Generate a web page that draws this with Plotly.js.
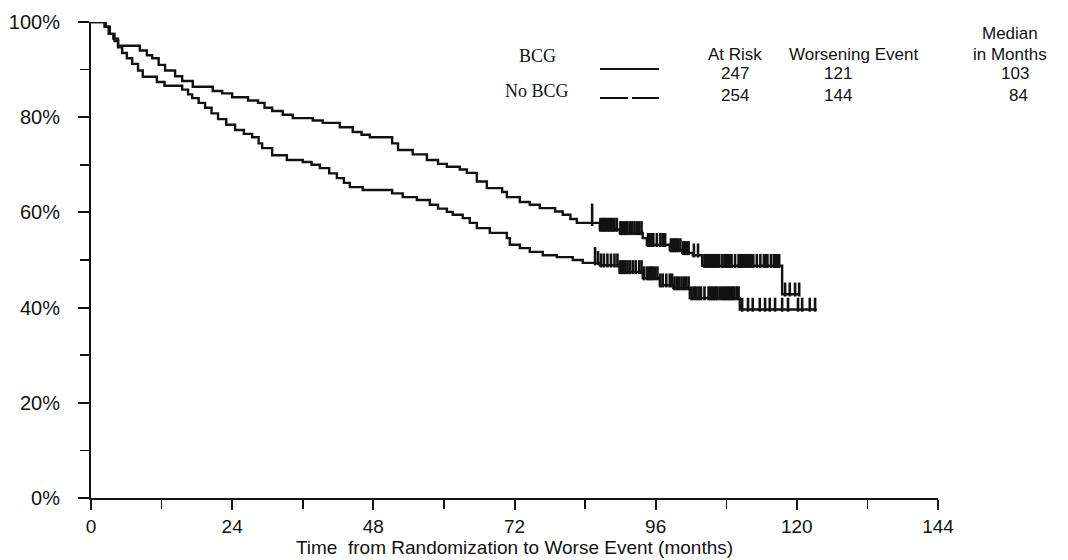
<!DOCTYPE html>
<html><head><meta charset="utf-8">
<script src="https://cdn.plot.ly/plotly-3.0.1.min.js"></script>
<style>html,body{margin:0;padding:0;background:#fff}#chart{width:1068px;height:560px}</style>
</head><body><div id="chart"></div>
<script>
// ---- data ----
const bcgTime = [0, 2.3, 3.0, 3.8, 4.6, 8.3, 9.5, 10.4, 11.5, 12.6, 14.3, 15.5, 17.3, 20.7, 22.3, 24, 26.7, 28.4, 29.5, 30.8, 32.6, 34.3, 37.7, 39.4, 42.3, 44.5, 46, 47.4, 51.2, 52.2, 54.7, 57.1, 59, 60.5, 62.7, 63.9, 65.6, 67.3, 69.9, 70.7, 72.9, 74.6, 76.3, 78.9, 80.2, 81.5, 82.6, 86.5, 89.9, 93.8, 94.5, 98.4, 100.5, 102.3, 103.9, 117.5];
const bcgSurv = [100, 99, 97.5, 96.5, 95, 94, 93, 92.4, 91, 89.8, 88.6, 87.6, 86.4, 85.5, 85, 84.2, 83.5, 83, 82, 81.3, 80.5, 79.8, 79.3, 78.8, 77.9, 76.9, 76.3, 75.8, 74.5, 73.1, 72.2, 71, 70.2, 69.6, 69, 68.3, 66.5, 65.1, 64.3, 63.2, 62.2, 61.6, 60.9, 60.2, 59.5, 58.6, 57.8, 56.4, 55.7, 54.6, 53.2, 52.1, 51.5, 51, 48.8, 42.8];
const bcgEnd = 120.5;

const noBcgTime = [0, 2.5, 3.2, 4, 4.6, 5.3, 6.1, 7, 8, 8.8, 11.2, 12.5, 15.5, 16.5, 17.2, 18.3, 19.4, 20.5, 21.6, 23, 24.5, 26, 27.4, 28.5, 29.1, 30.8, 33.3, 36, 37.5, 38.9, 40.5, 41.8, 43, 44, 46.2, 51.2, 53, 55.4, 57.6, 59, 60.5, 61.5, 63.2, 64.4, 65.6, 67.8, 70.7, 71.2, 72.9, 74.6, 76.8, 79.2, 81.9, 83.6, 86.5, 89.9, 93.8, 96.7, 99, 101.8, 110.3];
const noBcgSurv = [100, 99, 97.5, 96, 94.7, 93.5, 92.4, 91.2, 89.8, 88.5, 87.4, 86.6, 85.8, 84.8, 84, 83, 82, 80.8, 79.6, 78.4, 77.3, 76.5, 75.8, 74.5, 73.5, 72, 71, 70.6, 70, 69.3, 68.2, 67.2, 66.2, 65.3, 64.7, 64, 63.2, 62.6, 61.6, 60.8, 60.1, 59.5, 58.8, 57.8, 56.7, 55.7, 54.6, 53.2, 52.5, 51.7, 51, 50.6, 50, 49.4, 48.9, 47.5, 46.2, 44.7, 44.1, 42, 39.6];
const noBcgEnd = 123.4;

// censoring times (tick marks)
const bcgCensor = [86.6, 86.9, 87.2, 87.5, 87.8, 88.1, 88.4, 88.7, 89.0, 89.4,
  90.0, 90.3, 90.6, 90.9, 91.2, 91.6, 92.0, 92.4, 92.8, 93.2, 93.6,
  94.7, 95.0, 95.3, 95.6, 96.2, 96.8, 97.2, 97.6,
  98.6, 98.9, 99.2, 99.5, 99.8, 100.2, 100.7, 101.0, 101.3, 101.6, 102.5, 103.2,
  104.3, 104.6, 104.9, 105.2, 105.5, 105.8, 106.1, 106.4, 106.8, 107.3, 107.7, 108.0, 108.3, 108.6, 108.9,
  109.5, 110.1, 110.4, 110.7, 111.0, 111.3, 111.6, 111.9, 112.2, 112.6, 113.2, 113.8, 114.4, 114.7, 115.0,
  115.6, 116.1, 116.4, 116.7, 117.0,
  118.0, 118.8, 119.7, 120.4];
const noBcgCensor = [86.2, 86.7, 87.2, 87.8, 88.4, 89.0, 89.5, 89.9, 90.2, 90.5, 90.8, 91.2, 91.6, 92.1, 92.6, 93.2, 93.6,
  94.0, 94.5, 94.9, 95.2, 95.5, 95.9, 96.3, 96.8, 97.2, 97.8, 98.4, 98.8, 99.2, 99.6, 100.0, 100.4, 100.8, 101.2, 101.6,
  102.1, 102.5, 102.9, 103.3, 103.7, 104.3, 105.0, 105.3, 105.6, 105.9, 106.2, 106.5, 106.9, 107.3, 107.6, 107.9,
  108.2, 108.5, 108.8, 109.1, 109.4, 109.8, 110.1,
  110.7, 111.7, 112.5, 113.7, 114.6, 115.4, 116.3, 117.5, 118.5, 120.2, 120.9, 122.2, 123.1];
const bcgTallCensor = [85.2];
const noBcgTallCensor = [85.7];

const groupNames = ["BCG", "No BCG"];
const atRisk = [247, 254];
const worseningEvents = [121, 144];
const medianMonths = [103, 84];
const tableHeaders = ["At Risk", "Worsening Event", "Median", "in Months"];
const xTicks = [0, 24, 48, 72, 96, 120, 144];
const yTicks = [0, 20, 40, 60, 80, 100];
const xTitle = "Time  from Randomization to Worse Event (months)";

// ---- helpers ----
function stepAt(times, surv, t) {
  let v = surv[0];
  for (let i = 0; i < times.length; i++) { if (times[i] <= t) v = surv[i]; else break; }
  return v;
}
const L = 91, R = 938, T = 22, B = 498;
const px = x => (x - L) / (R - L);
const py = y => (B - y) / (B - T);

const INK = '#121212';
const sans = 'Liberation Sans Narrow, Liberation Sans, Arial, sans-serif';
const sansWide = 'Liberation Sans, Arial, sans-serif';
const serif = 'Liberation Serif, Times New Roman, serif';

const lineTrace = (t, s, end) => ({
  x: t.concat([end]), y: s.concat([s[s.length - 1]]),
  mode: 'lines', line: {shape: 'hv', color: INK, width: 2.4},
  hoverinfo: 'skip', cliponaxis: false, showlegend: false
});
const censorTrace = (c, t, s, off, size) => ({
  x: c, y: c.map(v => stepAt(t, s, v) + off),
  mode: 'markers', marker: {symbol: 'line-ns', size: size, color: INK, line: {color: INK, width: 2.6}},
  hoverinfo: 'skip', cliponaxis: false, showlegend: false
});

const data = [
  lineTrace(bcgTime, bcgSurv, bcgEnd),
  lineTrace(noBcgTime, noBcgSurv, noBcgEnd),
  censorTrace(bcgCensor, bcgTime, bcgSurv, 1.0, 10),
  censorTrace(noBcgCensor, noBcgTime, noBcgSurv, 1.0, 10),
  censorTrace(bcgTallCensor, bcgTime, bcgSurv, 1.7, 16),
  censorTrace(noBcgTallCensor, noBcgTime, noBcgSurv, 1.4, 13)
];

const ann = (text, x, y, font, size) => ({
  text: text, xref: 'paper', yref: 'paper', x: px(x), y: py(y),
  xanchor: 'center', yanchor: 'middle', showarrow: false,
  font: {family: font, size: size, color: INK}
});

const annotations = [
  ann(groupNames[0], 537, 56, serif, 18),
  ann(groupNames[1], 537, 91, serif, 18),
  ann(tableHeaders[0], 735, 55, sansWide, 17),
  ann(tableHeaders[1], 853, 55, sansWide, 17),
  ann(tableHeaders[2], 1010, 33, sansWide, 17),
  ann(tableHeaders[3], 1010, 55, sansWide, 17),
  ann(String(atRisk[0]), 735, 74, sansWide, 17),
  ann(String(atRisk[1]), 735, 95, sansWide, 17),
  ann(String(worseningEvents[0]), 838, 74, sansWide, 17),
  ann(String(worseningEvents[1]), 838, 95, sansWide, 17),
  ann(String(medianMonths[0]), 1015, 74, sansWide, 17),
  ann(String(medianMonths[1]), 1018, 95, sansWide, 17)
];

const shapes = [
  {type: 'line', xref: 'paper', yref: 'paper', x0: px(600), x1: px(659), y0: py(69), y1: py(69), line: {color: INK, width: 2}},
  {type: 'line', xref: 'paper', yref: 'paper', x0: px(600), x1: px(659), y0: py(98), y1: py(98), line: {color: INK, width: 2, dash: '28px,4px'}}
];

const layout = {
  width: 1068, height: 560,
  margin: {l: L, r: 1068 - R, t: T, b: 560 - B},
  paper_bgcolor: '#fff', plot_bgcolor: '#fff',
  showlegend: false,
  xaxis: {
    range: [0, 144], tickvals: xTicks, ticktext: xTicks.map(String),
    ticks: 'outside', ticklen: 10, tickwidth: 2, tickcolor: INK,
    showline: true, linewidth: 2, linecolor: INK, zeroline: false, showgrid: false,
    minor: {tickvals: [12, 36, 60, 84, 108, 132], ticks: 'outside', ticklen: 9, tickwidth: 1.5, tickcolor: INK, showgrid: false},
    tickfont: {family: sans, size: 19, color: INK},
    title: {text: xTitle, font: {family: sans, size: 19, color: INK}, standoff: 2},
    fixedrange: true
  },
  yaxis: {
    range: [0, 100], tickvals: yTicks, ticktext: yTicks.map(v => v + '%'),
    ticks: 'outside', ticklen: 11, tickwidth: 2, tickcolor: INK,
    showline: true, linewidth: 2, linecolor: INK, zeroline: false, showgrid: false,
    minor: {tickvals: [10, 30, 50, 70, 90], ticks: 'outside', ticklen: 9, tickwidth: 1.5, tickcolor: INK, showgrid: false},
    tickfont: {family: sansWide, size: 20, color: INK},
    ticklabelstandoff: 14,
    fixedrange: true
  },
  annotations: annotations,
  shapes: shapes
};

Plotly.newPlot('chart', data, layout, {displayModeBar: false, staticPlot: true});
</script>
</body></html>
